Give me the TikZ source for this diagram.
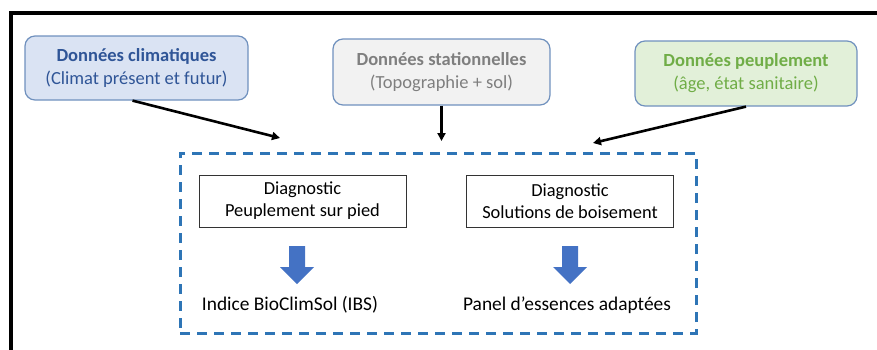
\documentclass[tikz,border=0pt]{standalone}
\usepackage{fontspec}
\setmainfont{Carlito}
\usetikzlibrary{arrows.meta}
\definecolor{climfill}{RGB}{218,227,243}
\definecolor{climtext}{RGB}{47,85,151}
\definecolor{statfill}{RGB}{242,242,242}
\definecolor{stattext}{RGB}{127,127,127}
\definecolor{peupfill}{RGB}{226,240,217}
\definecolor{peuptext}{RGB}{112,173,71}
\definecolor{boxborder}{RGB}{112,145,190}
\definecolor{zoneblue}{RGB}{46,117,182}
\definecolor{blockblue}{RGB}{68,114,196}
\begin{document}
\begin{tikzpicture}[x=1pt,y=-1pt,
  topbox/.style={draw=boxborder, line width=1.2pt, rounded corners=10pt, align=center,
    inner sep=0pt, font=\fontsize{18.5}{23}\selectfont},
  diagbox/.style={draw=black!80, line width=1pt, align=center, inner sep=0pt,
    minimum width=207pt, minimum height=52pt, font=\fontsize{18.4}{22}\selectfont},
  result/.style={inner sep=0pt, font=\fontsize{19.4}{22}\selectfont},
  conn/.style={line width=2.6pt, -{Triangle[length=8pt,width=8pt]}},
  blockarrow/.style={fill=blockblue, draw=none}
]
\useasboundingbox (0,0) rectangle (877,349);
% outer frame
\draw[line width=4pt] (10.5,355) -- (10.5,13) -- (885,13);

% top boxes
\node[topbox, fill=climfill, text=climtext, minimum width=223pt, minimum height=64pt]
  (clim) at (136.5,68) {\textbf{Données climatiques}\\(Climat présent et futur)};
\node[topbox, fill=statfill, text=stattext, minimum width=217pt, minimum height=66pt]
  (stat) at (441.5,72) {\textbf{Données stationnelles}\\(Topographie + sol)};
\node[topbox, fill=peupfill, text=peuptext, minimum width=222pt, minimum height=65pt]
  (peup) at (746,73.5) {\textbf{Données peuplement}\\(âge, état sanitaire)};

% dashed zone
\node[draw=zoneblue, line width=3pt, dash pattern=on 10pt off 7pt, minimum width=516pt,
  minimum height=180pt, inner sep=0pt] (zone) at (438,243) {};

% connectors
\coordinate (t1) at (280,138);
\coordinate (t2) at (441.5,141);
\coordinate (t3) at (593,143);
\draw[conn] ([xshift=-4pt]clim.south) -- (t1);
\draw[conn] (stat.south) -- (t2);
\draw[conn] (peup.south) -- (t3);

% diagnostic boxes
\node[diagbox] (d1) at (302.5,201) {Diagnostic\\Peuplement sur pied};
\node[diagbox] (d2) at (570,201) {Diagnostic\\Solutions de boisement};

% block arrows
\fill[blockarrow] (289,246) -- (305,246) -- (305,267) -- (314,267) -- (297,284)
  -- (280,267) -- (289,267) -- cycle;
\fill[blockarrow] (562,246) -- (578,246) -- (578,267) -- (587,267) -- (570,284)
  -- (553,267) -- (562,267) -- cycle;

% results
\node[result] (r1) at (290,305) {Indice BioClimSol (IBS)};
\node[result] (r2) at (567,305) {Panel d’essences adaptées};
\end{tikzpicture}
\end{document}
